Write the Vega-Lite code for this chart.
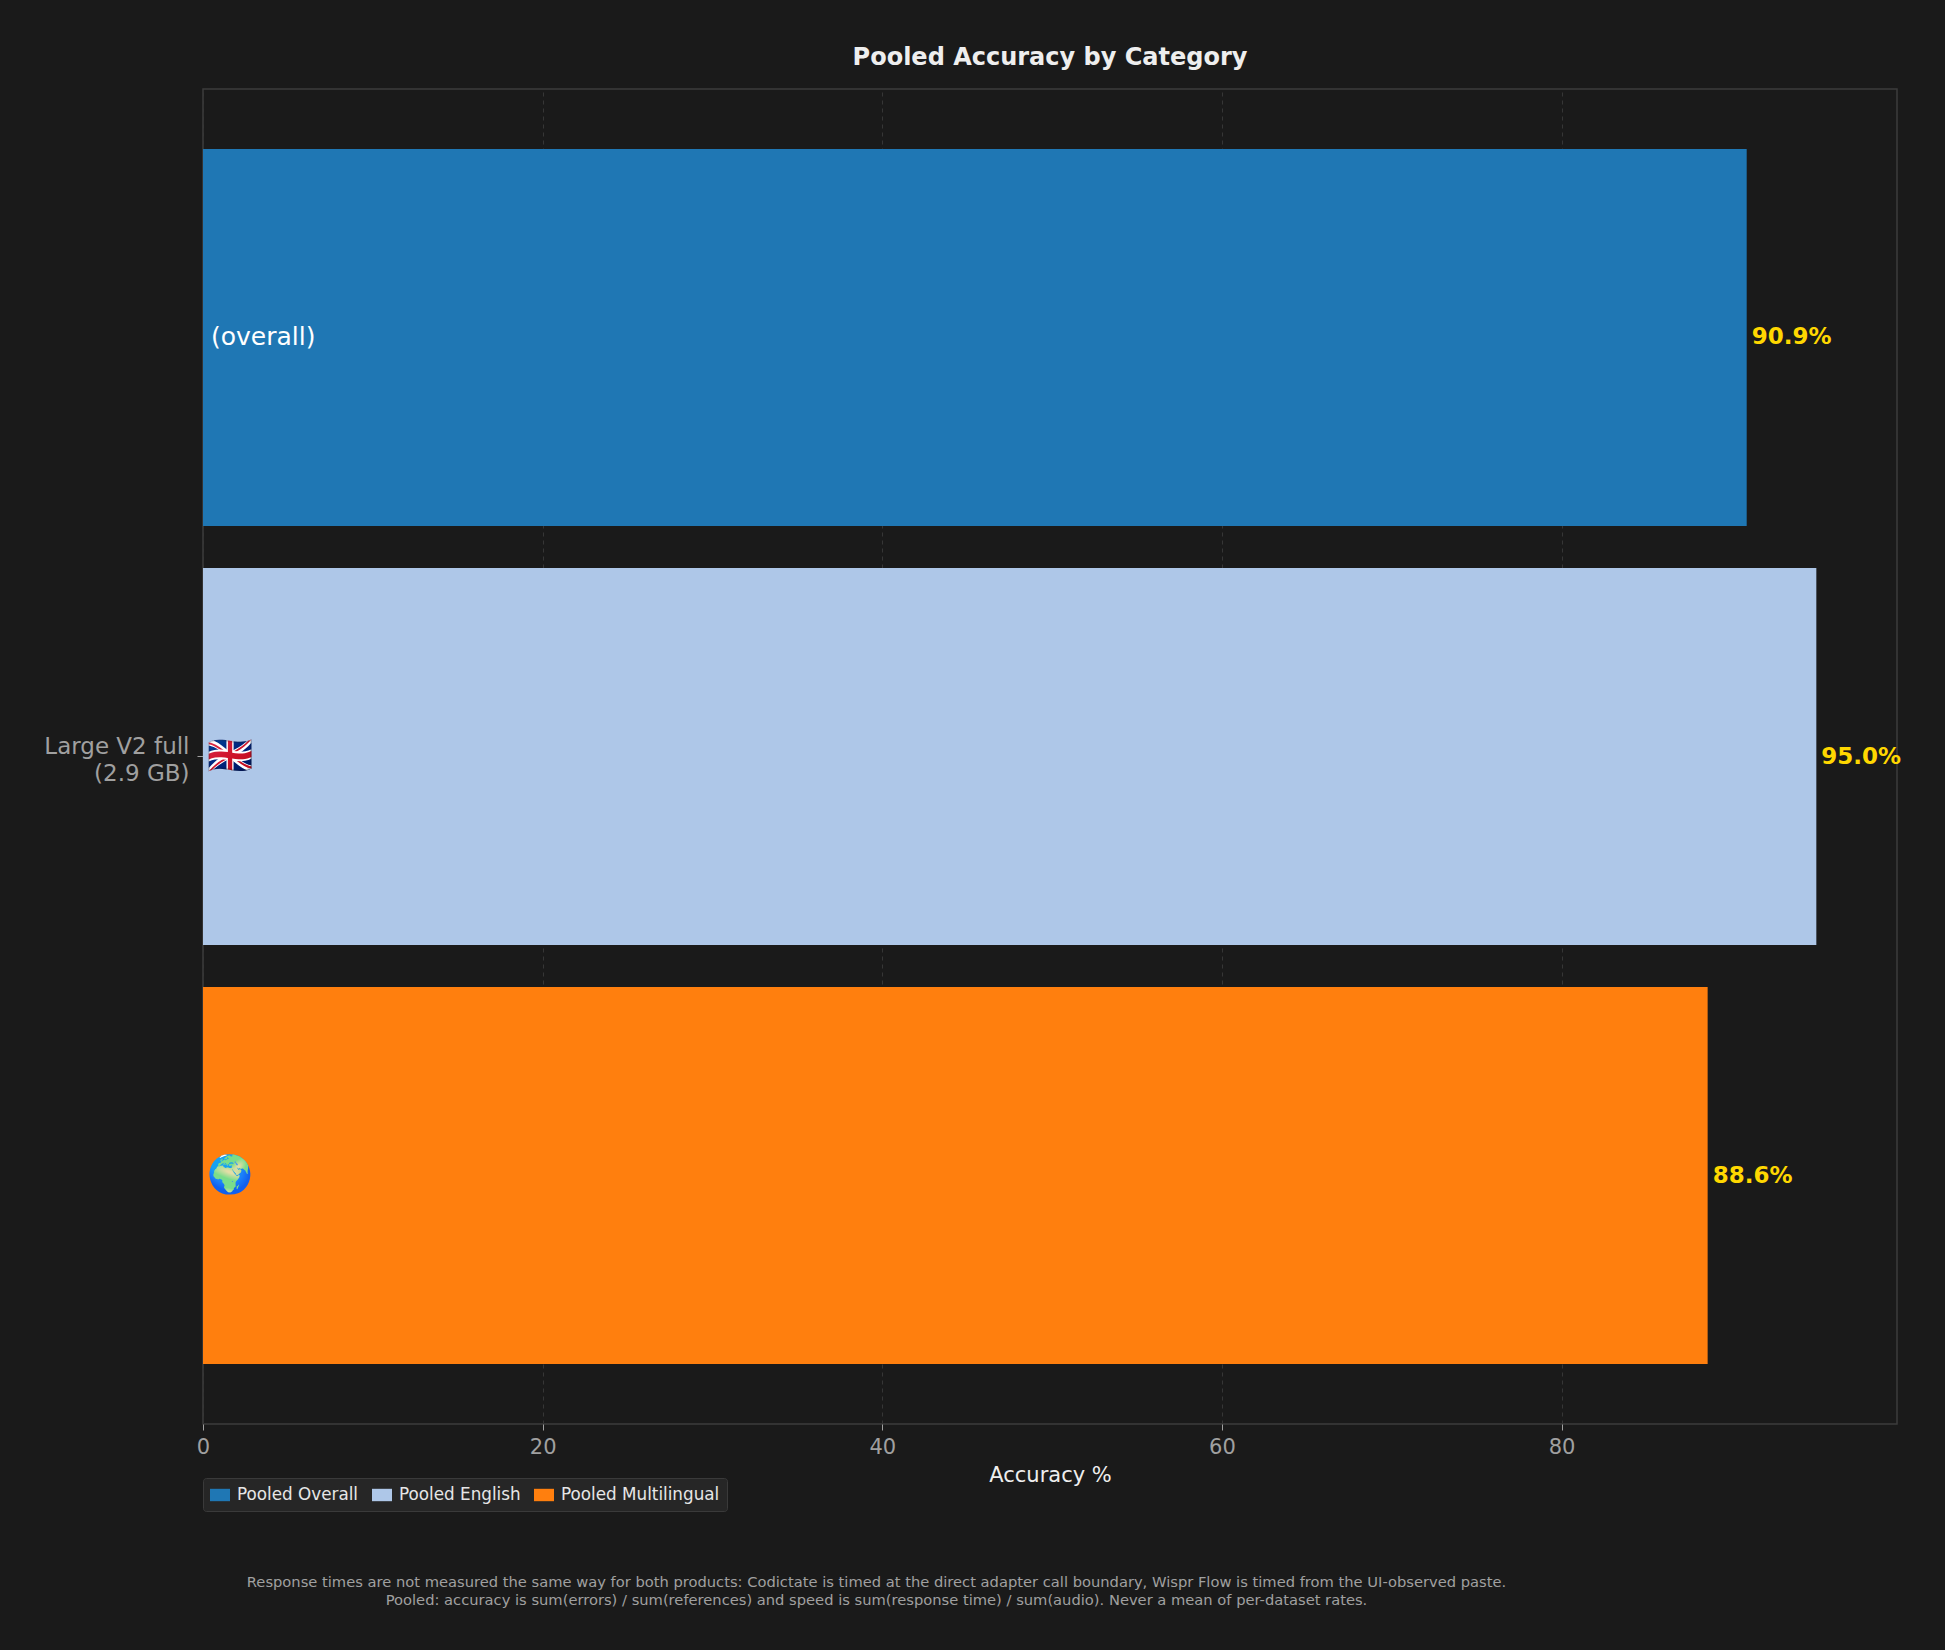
{
  "$schema": "https://vega.github.io/schema/vega-lite/v6.json",
  "background": "#1a1a1a",
  "autosize": {"type": "pad"},
  "padding": {"left": 43, "top": 45, "right": 45, "bottom": 70},
  "title": {
    "text": [
      "Response times are not measured the same way for both products: Codictate is timed at the direct adapter call boundary, Wispr Flow is timed from the UI-observed paste.",
      "Pooled: accuracy is sum(errors) / sum(references) and speed is sum(response time) / sum(audio). Never a mean of per-dataset rates."
    ],
    "orient": "bottom",
    "anchor": "middle",
    "fontSize": 14.7,
    "fontWeight": "normal",
    "color": "#a0a0a0",
    "font": "DejaVu Sans",
    "lineHeight": 18,
    "offset": 63,
    "dx": -96
  },
  "vconcat": [
    {
      "width": 1694,
      "height": 1335,
      "title": {
        "text": "Pooled Accuracy by Category",
        "anchor": "middle",
        "frame": "group",
        "fontSize": 24,
        "fontWeight": "bold",
        "color": "#eeeeee",
        "font": "DejaVu Sans",
        "offset": 19
      },
      "data": {
        "values": [
          {"model": "Large V2 full|(2.9 GB)", "series": "Pooled Overall", "accuracy": 90.9, "label": "90.9%", "inner": "(overall)"},
          {"model": "Large V2 full|(2.9 GB)", "series": "Pooled English", "accuracy": 95.0, "label": "95.0%", "inner": "🇬🇧"},
          {"model": "Large V2 full|(2.9 GB)", "series": "Pooled Multilingual", "accuracy": 88.6, "label": "88.6%", "inner": "🌍"}
        ]
      },
      "encoding": {
        "y": {
          "field": "model",
          "type": "nominal",
          "scale": {"paddingInner": 0, "paddingOuter": 0},
          "axis": {
            "title": null,
            "labelExpr": "split(datum.value, '|')",
            "labelColor": "#a0a0a0",
            "labelFontSize": 23,
            "labelAlign": "right",
            "labelBaseline": "middle",
            "labelLineHeight": 27,
            "labelOffset": -10,
            "labelPadding": 8,
            "tickSize": 6,
            "tickColor": "#a0a0a0",
            "domain": false,
            "grid": false,
            "minExtent": 157,
            "maxExtent": 157
          }
        },
        "yOffset": {
          "field": "series",
          "type": "nominal",
          "sort": ["Pooled Overall", "Pooled English", "Pooled Multilingual"],
          "scale": {"paddingInner": 0.1, "paddingOuter": 0.143}
        }
      },
      "layer": [
        {
          "mark": {"type": "bar"},
          "encoding": {
            "x": {
              "field": "accuracy",
              "type": "quantitative",
              "scale": {"domain": [0, 99.75], "nice": false, "zero": true},
              "axis": {
                "values": [0, 20, 40, 60, 80],
                "grid": true,
                "gridDash": [4, 4],
                "gridColor": "#363636",
                "gridWidth": 1,
                "domain": false,
                "labelFlush": false,
                "tickColor": "#a0a0a0",
                "tickSize": 6,
                "labelColor": "#a0a0a0",
                "labelFontSize": 21,
                "labelPadding": 6,
                "title": "Accuracy %",
                "titleColor": "#eeeeee",
                "titleFontSize": 21,
                "titleFontWeight": "normal",
                "titlePadding": 7
              }
            },
            "color": {
              "field": "series",
              "type": "nominal",
              "scale": {
                "domain": ["Pooled Overall", "Pooled English", "Pooled Multilingual"],
                "range": ["#1f77b4", "#aec7e8", "#ff7f0e"]
              },
              "legend": {
                "orient": "none",
                "legendX": 0,
                "legendY": 1389,
                "direction": "horizontal",
                "columns": 3,
                "gridAlign": "none",
                "title": null,
                "fillColor": "#262626",
                "strokeColor": "#3a3a3a",
                "padding": 7,
                "cornerRadius": 3,
                "symbolType": "M-1,-0.62H1V0.62H-1Z",
                "symbolSize": 400,
                "symbolStrokeWidth": 0,
                "labelFontSize": 16.8,
                "labelColor": "#e6e6e6",
                "labelOffset": 7,
                "labelLimit": 400,
                "columnPadding": 13
              }
            }
          }
        },
        {
          "mark": {"type": "text", "align": "left", "baseline": "middle", "dx": 5, "fontSize": 23, "fontWeight": "bold", "color": "#FFD700"},
          "encoding": {
            "x": {"field": "accuracy", "type": "quantitative"},
            "text": {"field": "label"}
          }
        },
        {
          "transform": [{"filter": "datum.series === 'Pooled Overall'"}],
          "mark": {"type": "text", "align": "left", "baseline": "middle", "dx": 8, "fontSize": 25, "color": "#ffffff"},
          "encoding": {
            "x": {"datum": 0, "type": "quantitative"},
            "text": {"field": "inner"}
          }
        },
        {
          "transform": [{"filter": "datum.series !== 'Pooled Overall'"}],
          "mark": {"type": "text", "align": "left", "baseline": "middle", "dx": 4, "fontSize": 37, "font": "Noto Color Emoji, DejaVu Sans"},
          "encoding": {
            "x": {"datum": 0, "type": "quantitative"},
            "text": {"field": "inner"}
          }
        }
      ]
    }
  ],
  "config": {
    "font": "DejaVu Sans",
    "view": {"stroke": "#3c3c3c", "strokeWidth": 1.5},
    "axis": {"labelFont": "DejaVu Sans", "titleFont": "DejaVu Sans"},
    "legend": {"labelFont": "DejaVu Sans"}
  }
}
